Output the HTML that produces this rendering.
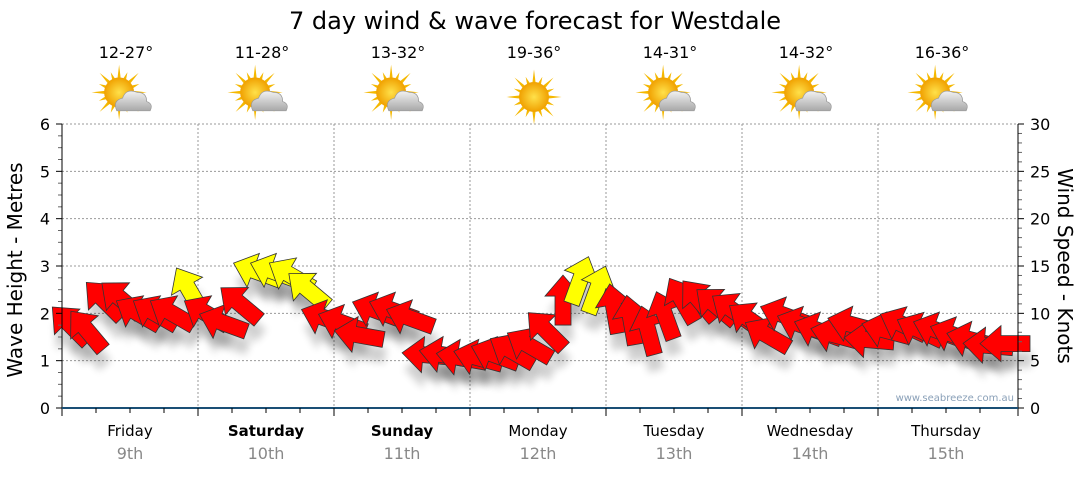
<!DOCTYPE html>
<html><head><meta charset="utf-8"><style>
body{margin:0;background:#fff;width:1080px;height:475px;overflow:hidden;font-family:"Liberation Sans",sans-serif}
svg text{font-family:"DejaVu Sans","Liberation Sans",sans-serif}
</style></head><body>
<svg id="chart" width="1080" height="475" viewBox="0 0 1080 475">
<defs>
<filter id="sh" x="-50%" y="-50%" width="200%" height="200%"><feGaussianBlur stdDeviation="4"/></filter>
<radialGradient id="sun" cx="50%" cy="50%" r="50%"><stop offset="0" stop-color="#ffe14a"/><stop offset="1" stop-color="#f0a000"/></radialGradient>
<linearGradient id="cloud" x1="0" y1="0" x2="0" y2="1"><stop offset="0" stop-color="#f2f2f2"/><stop offset="1" stop-color="#a8a8a8"/></linearGradient>
</defs>
<text x="535" y="29" font-size="24" text-anchor="middle" fill="#000">7 day wind &amp; wave forecast for Westdale</text>
<g id="grid"></g><g id="shadows"></g><g id="arrows"></g><g id="axes"></g><g id="topg"></g>
<text x="1014" y="401" font-size="10" text-anchor="end" fill="#8aa0b8">www.seabreeze.com.au</text>
<text transform="translate(22,270) rotate(-90)" font-size="20" text-anchor="middle">Wave Height - Metres</text>
<text transform="translate(1058,266) rotate(90)" font-size="20" text-anchor="middle">Wind Speed - Knots</text>
</svg>
<script>
const days=["Friday","Saturday","Sunday","Monday","Tuesday","Wednesday","Thursday"];
const dates=["9th","10th","11th","12th","13th","14th","15th"];
const temps=["12-27°","11-28°","13-32°","19-36°","14-31°","14-32°","16-36°"];
const sunny=[false,false,false,true,false,false,false];
const weekend=[false,true,true,false,false,false,false];
const leftTicks=[0,1,2,3,4,5,6];
const rightTicks=[0,5,10,15,20,25,30];
// wind speed (knots) every 3 hours
const windSpeed=[8.8,8.2,11.4,11.5,10,10,10,12.5, 10,9,11,14.4,14.4,14,12.5,9.5, 9,7.7,10.3,10.3,9.5,5.6,5.6,5.3, 5.3,5.6,6,6.6,8.2,11.4,13.5,12.5, 10.5,9.3,8.2,9.8,11.4,11.4,10.8,10.3, 9.3,7.7,9.8,8.8,8.2,7.7,8.8,7.2, 8.2,8.8,8.2,8.2,7.7,7.2,6.6,6.8];
// arrow direction (degrees, 0 = pointing up, negative = left)
const windDir=[-45,-40,-45,-50,-60,-60,-60,-30, -60,-70,-50,-70,-70,-60,-50,-70, -70,-80,-70,-70,-70,-85,-80,-80, -75,-70,-60,-60,-45,0,20,20, -10,-10,-15,-20,-30,-40,-50,-55, -55,-60,-70,-70,-70,-75,-75,-85, -75,-65,-65,-70,-70,-75,-85,-90];

const NS="http://www.w3.org/2000/svg";
const X0=62,X1=1018,DAYW=136,YB=408,YT=124;
const yL=v=>YB-(v/6)*(YB-YT);
const yR=v=>YB-(v/30)*(YB-YT);
const xT=i=>X0+8+i*(DAYW/8);
function mk(t,p,a){const e=document.createElementNS(NS,t);for(const k in a)e.setAttribute(k,a[k]);p.appendChild(e);return e;}
const gridG=document.getElementById('grid'),axesG=document.getElementById('axes'),topLayer=document.getElementById('topg');
leftTicks.forEach(v=>{
 if(v>0){const l=mk('line',gridG,{x1:X0,x2:X1,y1:yL(v),y2:yL(v),stroke:'#999','stroke-dasharray':'2,2','stroke-width':1});
 
 }
 const t=mk('text',axesG,{x:50,y:yL(v)+6,'font-size':16,'text-anchor':'end'});t.textContent=v;
 
 
 mk('line',axesG,{x1:X0-6,x2:X0,y1:yL(v),y2:yL(v),stroke:'#000'});
 if(v<6)for(let k=1;k<4;k++)mk('line',axesG,{x1:X0-4,x2:X0,y1:yL(v+k/4),y2:yL(v+k/4),stroke:'#666'});
});
rightTicks.forEach(v=>{
 const t=mk('text',axesG,{x:1030,y:yR(v)+6,'font-size':16});t.textContent=v;
 
 
 mk('line',axesG,{x1:X1,x2:X1+6,y1:yR(v),y2:yR(v),stroke:'#000'});
 if(v<30)for(let k=1;k<5;k++)mk('line',axesG,{x1:X1,x2:X1+4,y1:yR(v+k),y2:yR(v+k),stroke:'#666'});
});
mk('line',axesG,{x1:X0,x2:X0,y1:YT,y2:YB+8,stroke:'#000'});
mk('line',axesG,{x1:X1,x2:X1,y1:YT,y2:YB+8,stroke:'#000'});
mk('line',axesG,{x1:X0,x2:X1,y1:YB,y2:YB,stroke:'#1a4f75','stroke-width':2});
days.forEach((d,i)=>{
 const xs=X0+i*DAYW,xc=xs+DAYW/2;
 if(i>0){const g=mk('line',gridG,{x1:xs,x2:xs,y1:YT,y2:YB,stroke:'#999','stroke-dasharray':'2,2'});
 
 
 mk('line',axesG,{x1:xs,x2:xs,y1:YB,y2:YB+8,stroke:'#000'});}
 for(let k=1;k<4;k++)mk('line',axesG,{x1:xs+k*DAYW/4,x2:xs+k*DAYW/4,y1:YB,y2:YB+5,stroke:'#000'});
 const t=mk('text',axesG,{x:xc,y:436,'font-size':15,'text-anchor':'middle','font-weight':weekend[i]?'bold':'normal'});t.textContent=d;
 
 
 const t2=mk('text',axesG,{x:xc,y:459,'font-size':16,'text-anchor':'middle',fill:'#888'});t2.textContent=dates[i];
 
 
 const tt=mk('text',topLayer,{x:xc-4,y:58,'font-size':16,'text-anchor':'middle'});tt.textContent=temps[i];
 
 
 const ic=mk('g',topLayer,{transform:`translate(${xc-4},97) scale(1.15)`});
 
 
 const sx=sunny[i]?0:-6,sy=sunny[i]?0:-4;
 for(let r=0;r<16;r++){const a=r*Math.PI/8;mk('polygon',ic,{points:`${sx+Math.cos(a-0.12)*12},${sy+Math.sin(a-0.12)*12} ${sx+Math.cos(a)*(r%2?19:24)},${sy+Math.sin(a)*(r%2?19:24)} ${sx+Math.cos(a+0.12)*12},${sy+Math.sin(a+0.12)*12}`,fill:'#f5b800'});}
 mk('circle',ic,{cx:sx,cy:sy,r:13,fill:'url(#sun)'});
 if(!sunny[i]){mk('path',ic,{d:'M-8,12 Q-12,3 -3,1 Q0,-8 10,-4 Q18,-4 18,4 Q24,6 21,12 Z',fill:'url(#cloud)',stroke:'#999','stroke-width':0.6});}
});
const ar=document.getElementById('arrows'),shG=document.getElementById('shadows');
const shape="M0,-25 L18,-4 L8,-4 L8,25 L-8,25 L-8,-4 L-18,-4 Z";
windSpeed.forEach((s,i)=>{
 const x=xT(i),y=yR(s),a=windDir[i];
 const sp=mk('path',shG,{d:shape,transform:`translate(${x+2},${y+16}) rotate(${a})`,fill:'#000',opacity:0.18,filter:'url(#sh)'});
 
 
 const p=mk('path',ar,{d:shape,transform:`translate(${x},${y}) rotate(${a})`,fill:s>=12?'#ffff00':'#ff0000',stroke:'#333','stroke-width':0.8});
 
 
});
</script>
</body></html>
